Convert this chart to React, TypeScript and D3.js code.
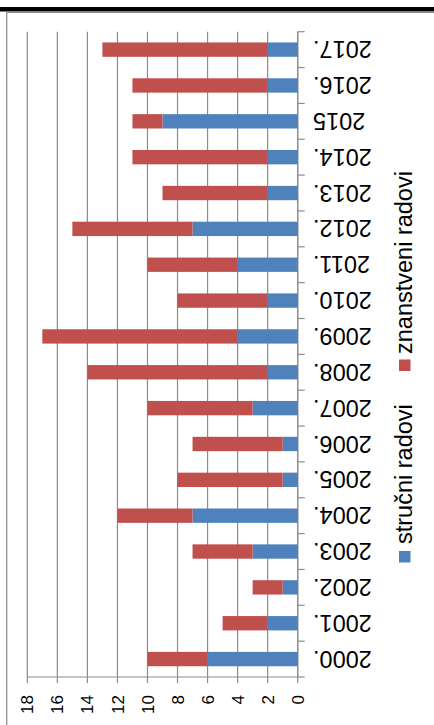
import React, { useRef, useEffect } from 'react'
import * as d3 from 'd3'

// categories (bottom to top) and the two stacked series
const years = [
  '2000.', '2001.', '2002.', '2003.', '2004.', '2005.', '2006.', '2007.', '2008.',
  '2009.', '2010.', '2011.', '2012.', '2013.', '2014.', '2015', '2016.', '2017.',
]
const strucni = [6, 2, 1, 3, 7, 1, 1, 3, 2, 4, 2, 4, 7, 2, 2, 9, 2, 2]
const znanstveni = [4, 3, 2, 4, 5, 7, 6, 7, 12, 13, 6, 6, 8, 7, 9, 2, 9, 11]
const valueTicks = [0, 2, 4, 6, 8, 10, 12, 14, 16, 18]
const seriesNames = ['stručni radovi', 'znanstveni radovi']
const colors = ['#4F81BD', '#C0504D']

const W = 434
const H = 725
const FONT = '"Liberation Sans", Arial, sans-serif'

const App: React.FC = () => {
  const svgRef = useRef<SVGSVGElement | null>(null)

  useEffect(() => {
    if (!svgRef.current) return
    const svg = d3.select(svgRef.current)
    svg.selectAll('*').remove()

    // plot box (chart is laid out rotated: values run right -> left)
    const left = 27.3
    const right = 297.7
    const top = 31.7
    const bottom = 677

    const x = d3.scaleLinear().domain([0, 18]).range([right, left])
    const y = d3.scaleBand<string>().domain(years).range([bottom, top]).padding(0)

    // frame: thick black rule on top and the grey chart border
    svg.append('rect').attr('x', 0).attr('y', 7).attr('width', W).attr('height', 4.5).attr('fill', '#000')
    svg.append('path')
      .attr('d', `M6.7,${H} V12.3 H${W}`)
      .attr('fill', 'none')
      .attr('stroke', '#8e8e8e')
      .attr('stroke-width', 1.3)

    // gridlines + value ticks
    svg.append('g')
      .selectAll('line')
      .data(valueTicks)
      .join('line')
      .attr('x1', d => x(d))
      .attr('x2', d => x(d))
      .attr('y1', top)
      .attr('y2', bottom + 6)
      .attr('stroke', '#8c8c8c')
      .attr('stroke-width', 1.2)

    // value axis line
    svg.append('line')
      .attr('x1', left).attr('x2', right)
      .attr('y1', bottom).attr('y2', bottom)
      .attr('stroke', '#8c8c8c').attr('stroke-width', 1.2)

    // category axis line + ticks between bands
    svg.append('line')
      .attr('x1', right).attr('x2', right)
      .attr('y1', top).attr('y2', bottom)
      .attr('stroke', '#8c8c8c').attr('stroke-width', 1.2)

    const bounds = years.map(d => y(d)! + y.bandwidth()).concat([y(years[years.length - 1])!])
    svg.append('g')
      .selectAll('line')
      .data(bounds)
      .join('line')
      .attr('x1', right)
      .attr('x2', right + 7)
      .attr('y1', d => d)
      .attr('y2', d => d)
      .attr('stroke', '#8c8c8c')
      .attr('stroke-width', 1.2)

    // stacked bars
    const barH = y.bandwidth() * 0.4
    const rows = years.map((yr, i) => ({ yr, a: strucni[i], b: znanstveni[i] }))
    const bars = svg.append('g')
    rows.forEach(r => {
      const cy = y(r.yr)! + y.bandwidth() / 2
      bars.append('rect')
        .attr('x', x(r.a))
        .attr('y', cy - barH / 2)
        .attr('width', x(0) - x(r.a))
        .attr('height', barH)
        .attr('fill', colors[0])
      bars.append('rect')
        .attr('x', x(r.a + r.b))
        .attr('y', cy - barH / 2)
        .attr('width', x(r.a) - x(r.a + r.b))
        .attr('height', barH)
        .attr('fill', colors[1])
    })

    // value tick labels, rotated -90
    svg.append('g')
      .selectAll('text')
      .data(valueTicks)
      .join('text')
      .attr('x', d => x(d))
      .attr('y', 695)
      .attr('dy', '0.36em')
      .attr('transform', d => `rotate(-90,${x(d)},695)`)
      .attr('text-anchor', 'end')
      .style('font-family', FONT)
      .style('font-size', '17px')
      .attr('fill', '#000')
      .text(d => d)

    // category labels, upside down
    svg.append('g')
      .selectAll('text')
      .data(years)
      .join('text')
      .attr('x', 313)
      .attr('y', d => y(d)! + y.bandwidth() / 2)
      .attr('dy', '0.36em')
      .attr('transform', d => `rotate(180,313,${y(d)! + y.bandwidth() / 2})`)
      .attr('text-anchor', 'end')
      .style('font-family', FONT)
      .style('font-size', '23.5px')
      .attr('fill', '#000')
      .text(d => d)

    // legend (reads bottom to top)
    const legend = [
      { name: seriesNames[0], color: colors[0], markY: 551, textY: 544 },
      { name: seriesNames[1], color: colors[1], markY: 359.5, textY: 354 },
    ]
    legend.forEach(l => {
      svg.append('rect')
        .attr('x', 399)
        .attr('y', l.markY)
        .attr('width', 11.5)
        .attr('height', 11.5)
        .attr('fill', l.color)
      svg.append('text')
        .attr('x', 412)
        .attr('y', l.textY)
        .attr('transform', `rotate(-90,412,${l.textY})`)
        .attr('text-anchor', 'start')
        .style('font-family', FONT)
        .style('font-size', '23.5px')
        .attr('fill', '#000')
        .text(l.name)
    })
  }, [])

  return (
    <svg
      ref={svgRef}
      width={W}
      height={H}
      style={{ position: 'absolute', left: 0, top: 0, background: '#fff' }}
    />
  )
}

export default App
